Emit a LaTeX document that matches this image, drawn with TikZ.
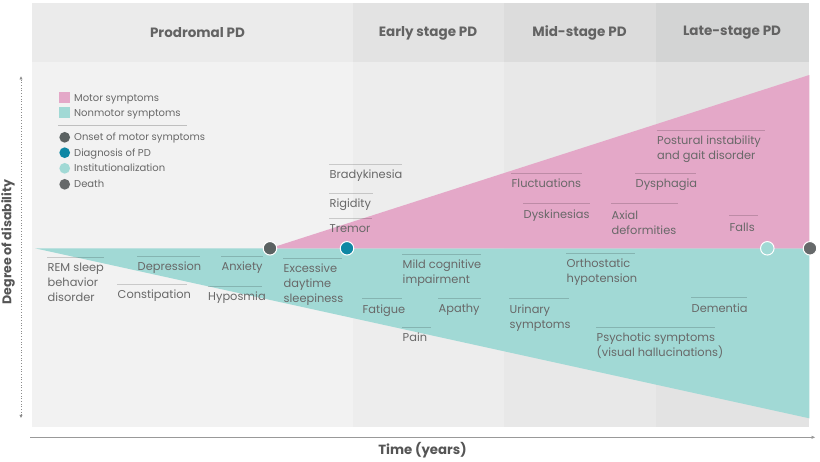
\documentclass[tikz,border=0pt]{standalone}
\usepackage{fontspec}
\setmainfont{Poppins}
\usetikzlibrary{arrows.meta}
\definecolor{motor}{HTML}{E4A8C8}
\definecolor{nonmotor}{HTML}{A1D9D5}
\definecolor{diagc}{HTML}{0E87A4}
\definecolor{darkdot}{HTML}{5B6262}
\definecolor{deathc}{HTML}{66696A}
\definecolor{txt}{HTML}{686868}
\definecolor{hdrtxt}{HTML}{636363}
\definecolor{axtxt}{HTML}{555555}
\definecolor{proH}{HTML}{EBEBEB}
\definecolor{proB}{HTML}{F2F2F2}
\definecolor{earH}{HTML}{E3E3E3}
\definecolor{earB}{HTML}{EDEDED}
\definecolor{midH}{HTML}{DCDCDC}
\definecolor{midB}{HTML}{E8E8E8}
\definecolor{latH}{HTML}{D3D4D4}
\definecolor{latB}{HTML}{E3E3E3}
\newcommand\symlab[6][5.3]{%
  \draw[sepline] (#3,#4) -- ++(#5,0);
  \node[lbl] (#2) at (#3+0.5,#4+#1) {#6};}
\begin{document}
\begin{tikzpicture}[x=1pt,y=-1pt,
  lbl/.style={anchor=north west, inner sep=0pt, align=left, text=txt, font=\fontsize{11.4}{15}\selectfont},
  sepline/.style={draw=black, draw opacity=0.17, line width=0.6pt},
  hdr/.style={text=hdrtxt, font=\bfseries\fontsize{13.5}{15}\selectfont, inner sep=0pt},
  leg/.style={anchor=base west, inner sep=0pt, text=txt, font=\fontsize{10}{11}\selectfont},
  legsq/.style={rectangle, inner sep=0pt, minimum size=10.5pt},
  legdot/.style={circle, inner sep=0pt, minimum size=10.7pt},
  stagedot/.style={circle, inner sep=0pt, minimum size=13.5pt, draw=white, line width=1pt},
  axlab/.style={text=axtxt, font=\bfseries\fontsize{12.6}{14}\selectfont, inner sep=0pt}]
\useasboundingbox (0,0) rectangle (820,462);
\fill[white] (0,0) rectangle (820,462);
% columns
\fill[proB] (31.7,61.7) rectangle (352.7,426.7);
\fill[proH] (31.7,3.5) rectangle (352.7,61.7);
\fill[earB] (352.7,61.7) rectangle (504.3,426.7);
\fill[earH] (352.7,3.5) rectangle (504.3,61.7);
\fill[midB] (504.3,61.7) rectangle (655.7,426.7);
\fill[midH] (504.3,3.5) rectangle (655.7,61.7);
\fill[latB] (655.7,61.7) rectangle (809.3,426.7);
\fill[latH] (655.7,3.5) rectangle (809.3,61.7);
% headers
\node[hdr] (hpro) at (197.5,33) {Prodromal PD};
\node[hdr] (hear) at (428,33) {Early stage PD};
\node[hdr] (hmid) at (579.5,33) {Mid-stage PD};
\node[hdr] (hlat) at (732,33) {Late-stage PD};
% regions
\fill[nonmotor] (35,248.3) -- (809.3,248.3) -- (809.3,418.3) -- cycle;
\fill[motor] (270,248.3) -- (809.3,75) -- (809.3,248.3) -- cycle;
% legend
\node[legsq, fill=motor] (lsq1) at (64.7,97.7) {};
\node[leg] (lt1) at (74,101.3) {Motor symptoms};
\node[legsq, fill=nonmotor] (lsq2) at (64.7,112.7) {};
\node[leg] (lt2) at (74,116.3) {Nonmotor symptoms};
\draw[draw=black!25, line width=0.8pt] (58.3,125) -- (187.3,125);
\node[legdot, fill=darkdot] (ld1) at (64.7,137.3) {};
\node[leg] (lt3) at (74,140.9) {Onset of motor symptoms};
\node[legdot, fill=diagc] (ld2) at (64.7,152.7) {};
\node[leg] (lt4) at (74,156.3) {Diagnosis of PD};
\node[legdot, fill=nonmotor] (ld3) at (64.7,168.3) {};
\node[leg] (lt5) at (74,171.9) {Institutionalization};
\node[legdot, fill=deathc] (ld4) at (64.7,184.3) {};
\node[leg] (lt6) at (74,187.9) {Death};
% labels
\symlab{rem}{47}{257.3}{57}{REM sleep\\behavior\\disorder}
\symlab{depr}{137}{256.7}{63}{Depression}
\symlab{anx}{221}{256.7}{42}{Anxiety}
\symlab{const}{117}{284.3}{70}{Constipation}
\symlab{hypo}{207.5}{286.3}{54}{Hyposmia}
\symlab{eds}{283}{258.3}{59}{Excessive\\daytime\\sleepiness}
\symlab{brady}{329}{164.3}{73}{Bradykinesia}
\symlab{rig}{329}{193.3}{44}{Rigidity}
\symlab{trem}{329}{218.7}{43}{Tremor}
\symlab[6]{fat}{362}{298.3}{40}{Fatigue}
\symlab{mci}{402}{254.3}{79}{Mild cognitive\\impairment}
\symlab{pain}{402}{327.3}{29}{Pain}
\symlab[6]{apa}{438}{298.3}{43}{Apathy}
\symlab{fluc}{511}{173.8}{71}{Fluctuations}
\symlab[7]{dysk}{523}{203}{67}{Dyskinesias}
\symlab[6]{uri}{509}{298.3}{60}{Urinary\\symptoms}
\symlab{orth}{566}{253.8}{69}{Orthostatic\\hypotension}
\symlab[7]{axial}{611}{203.3}{67}{Axial\\deformities}
\symlab{dysph}{635}{173.3}{61}{Dysphagia}
\symlab[6]{psy}{596}{327}{119}{Psychotic symptoms\\(visual hallucinations)}
\symlab{post}{656.5}{130}{108}{Postural instability\\and gait disorder}
\symlab[8]{falls}{729}{215}{29}{Falls}
\symlab[6.3]{dem}{691}{297.3}{56}{Dementia}
% markers
\node[stagedot, fill=darkdot] (onset) at (270,248.3) {};
\node[stagedot, fill=diagc] (diag) at (347,248.3) {};
\node[stagedot, fill=nonmotor] (inst) at (767.3,248.3) {};
\node[stagedot, fill=deathc] (death) at (810,248.3) {};
% axes
\coordinate (vtop) at (21,76);
\coordinate (vbot) at (21,418.3);
\draw[black!45, line width=0.7pt, dotted, {Latex[length=3.5pt,width=3.5pt]}-{Latex[length=3.5pt,width=3.5pt]}] (vbot) -- (vtop);
\coordinate (hl) at (30.3,437.3);
\coordinate (hr) at (815.5,437.3);
\draw[black!40, line width=0.8pt, -{Latex[length=4pt,width=3.5pt]}] (hl) -- (hr);
\node[axlab, rotate=90] (ylab) at (8,242) {Degree of disability};
\node[axlab, font=\bfseries\fontsize{13.3}{15}\selectfont] (xlab) at (422.5,450.5) {Time (years)};
\end{tikzpicture}
\end{document}
